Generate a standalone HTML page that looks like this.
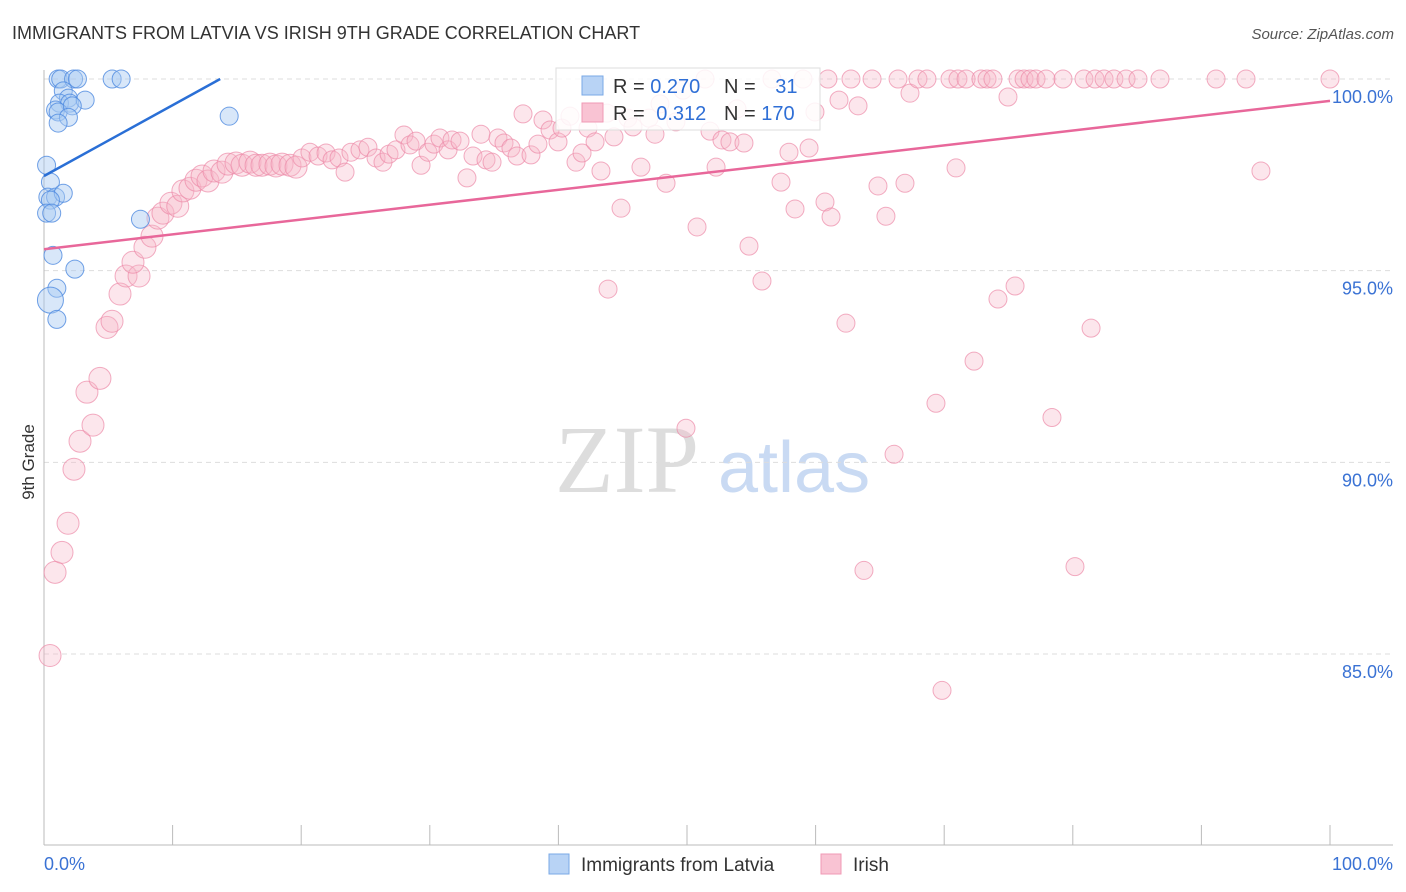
<!DOCTYPE html>
<html><head><meta charset="utf-8"><style>
body{margin:0;background:#fff;font-family:"Liberation Sans",sans-serif}
</style></head><body>
<svg id="c" width="1406" height="892" style="display:block">
<text x="12" y="39" font-size="18" fill="#333">IMMIGRANTS FROM LATVIA VS IRISH 9TH GRADE CORRELATION CHART</text>
<text x="1394" y="39" font-size="15" fill="#555" font-style="italic" text-anchor="end">Source: ZipAtlas.com</text>
<text x="34" y="462" font-size="17" fill="#333" transform="rotate(-90 34 462)" text-anchor="middle">9th Grade</text>
<text x="555" y="492" font-size="96" fill="#ddd" font-family="Liberation Serif">ZIP</text>
<text x="718" y="492" font-size="72" fill="#c9daf3">atlas</text>
<g id="grid"></g><g id="pts"></g><g id="lines"></g>
<g>
<rect x="556" y="68" width="264" height="62" fill="#fff" fill-opacity="0.85" stroke="#ddd"/>
<rect x="582" y="76" width="21" height="19" fill="#b8d3f5" stroke="#7aa8e6"/>
<rect x="582" y="103" width="21" height="19" fill="#f9c3d3" stroke="#f09ab4"/>
<text x="613" y="93" font-size="20" fill="#333">R = <tspan fill="#2f6fd6">0.270</tspan></text>
<text x="724" y="93" font-size="20" fill="#333">N = <tspan fill="#2f6fd6" dx="14">31</tspan></text>
<text x="613" y="120" font-size="20" fill="#333">R = <tspan fill="#2f6fd6" dx="6">0.312</tspan></text>
<text x="724" y="120" font-size="20" fill="#333">N = <tspan fill="#2f6fd6">170</tspan></text>
</g>
<g>
<rect x="549" y="854" width="20" height="20" fill="#b8d3f5" stroke="#7aa8e6"/>
<text x="581" y="871" font-size="19" fill="#333">Immigrants from Latvia</text>
<rect x="821" y="854" width="20" height="20" fill="#f9c3d3" stroke="#f09ab4"/>
<text x="853" y="871" font-size="19" fill="#333">Irish</text>
</g>
</svg>
<script>
const yTicks=[100,95,90,85];
const yTickLabels=["100.0%","95.0%","90.0%","85.0%"];
const xTickVals=[0,10,20,30,40,50,60,70,80,90,100];
const blueX=[1.1,1.3,2.3,2.6,5.3,6.0,1.5,1.9,1.2,2.0,3.2,0.9,1.1,2.2,1.9,1.1,14.4,0.5,0.3,0.9,1.5,0.5,0.2,0.6,7.5,0.7,2.4,1.0,0.5,1.0,0.2];
const blueY=[100,100,100,100,100,100,99.69,99.5,99.37,99.37,99.45,99.19,99.14,99.3,99.0,98.85,99.03,97.31,96.92,96.92,97.02,96.84,96.5,96.5,96.34,95.4,95.04,94.54,94.23,93.73,97.75];
const pinkX=[0.47,0.86,1.4,1.87,2.33,2.8,3.81,3.34,4.35,4.9,5.29,5.91,6.38,7.39,6.92,7.85,8.4,8.86,9.25,9.87,10.4,10.8,11.35,11.82,12.29,12.75,13.22,13.84,14.31,14.93,15.4,16.02,16.49,16.95,17.57,18.04,18.51,19.13,19.6,20.06,20.68,21.31,21.93,22.4,22.94,23.41,23.87,24.57,25.19,25.82,26.36,26.83,27.37,27.99,28.46,28.93,29.32,29.86,30.33,30.79,31.42,31.73,32.35,32.89,33.36,33.98,34.37,34.84,35.3,35.77,36.31,36.78,37.25,37.87,38.41,38.8,39.35,39.97,40.28,40.9,41.37,41.84,42.3,42.85,43.31,43.78,44.32,44.87,45.41,45.8,46.42,47.05,47.51,47.9,48.37,49.14,49.69,50.78,51.4,51.79,52.26,52.72,53.34,53.89,54.43,54.82,55.83,56.61,57.31,57.93,58.4,59.02,59.49,59.95,60.73,60.96,61.2,61.82,62.36,62.75,63.3,63.76,64.39,64.85,65.47,66.1,66.41,66.95,67.34,67.96,68.66,69.36,69.83,70.45,70.92,71.07,71.7,72.32,72.86,73.33,73.79,74.18,74.96,75.51,75.74,76.21,76.67,77.14,77.92,78.38,79.24,80.17,80.87,81.42,81.73,82.43,83.2,84.14,85.07,86.78,91.14,93.47,94.63,100,49.92,43.86];
const pinkY=[84.96,87.13,87.65,88.41,89.82,90.55,90.97,91.83,92.19,93.52,93.68,94.39,94.86,94.86,95.22,95.61,95.9,96.37,96.5,96.76,96.68,97.08,97.15,97.36,97.47,97.34,97.6,97.57,97.78,97.81,97.75,97.83,97.75,97.75,97.78,97.73,97.78,97.75,97.7,97.94,98.09,97.99,98.07,97.89,97.94,97.57,98.09,98.15,98.22,97.94,97.83,98.04,98.15,98.54,98.28,98.38,97.75,98.09,98.3,98.46,98.15,98.41,98.38,97.42,97.99,98.56,97.89,97.83,98.46,98.33,98.2,97.99,99.09,98.02,98.3,98.93,98.67,98.36,98.72,99.03,97.83,98.07,98.72,98.36,97.6,99.11,98.49,96.63,98.98,98.75,97.7,98.98,98.56,99.35,97.28,98.88,99.71,96.14,100,98.64,97.7,98.41,98.36,99.22,98.33,95.64,94.73,100,97.31,98.09,96.61,100,98.2,99.14,96.79,100,96.4,99.45,93.63,100,99.3,87.18,100,97.21,96.42,90.21,100,97.28,99.63,100,100,91.54,84.05,100,97.68,100,100,92.64,100,100,100,94.26,99.53,94.6,100,100,100,100,100,91.17,100,87.28,100,93.5,100,100,100,100,100,100,100,100,97.6,100,90.89,94.52];
const L=44,R=1330,T=79,B=845;
const xs=v=>L+(R-L)*v/100;
const ys=v=>T+(100-v)*(654-79)/15;
const NS="http://www.w3.org/2000/svg";
function mk(t,a,p){const e=document.createElementNS(NS,t);for(const k in a)e.setAttribute(k,a[k]);p.appendChild(e);return e;}
const grid=document.getElementById('grid');
yTicks.forEach((v,i)=>{
 const g=mk('line',{x1:L,x2:1393,y1:ys(v),y2:ys(v),stroke:'#ddd','stroke-dasharray':'5,4'},grid);
 
 
 const t=mk('text',{x:1393,y:ys(v)+24,'font-size':18,fill:'#3a72d4','text-anchor':'end'},grid);
 t.textContent=yTickLabels[i];
 
 
});
const ax=mk('line',{x1:L,x2:1393,y1:B,y2:B,stroke:'#bbb'},grid);


const ay=mk('line',{x1:L,x2:L,y1:70,y2:B,stroke:'#bbb'},grid);


xTickVals.forEach(v=>{
 const t=mk('line',{x1:xs(v),x2:xs(v),y1:825,y2:B,stroke:'#bbb'},grid);
 
 
});
[[0,"0.0%",'start',44],[100,"100.0%",'end',1393]].forEach(a=>{
 const t=mk('text',{x:a[3],y:870,'font-size':18,fill:'#3a72d4','text-anchor':a[2]},grid);
 t.textContent=a[1];
 
 
});
const pts=document.getElementById('pts');
pinkX.forEach((x,i)=>{
 const c=mk('circle',{cx:xs(x),cy:ys(pinkY[i]),r:x<20?11:9,fill:'#f7b6c9','fill-opacity':0.35,stroke:'#ec8aa8','stroke-opacity':0.7},pts);
 
 
});
blueX.forEach((x,i)=>{
 const c=mk('circle',{cx:xs(x),cy:ys(blueY[i]),r:i==28?13:9,fill:'#a9c9f2','fill-opacity':0.45,stroke:'#4d8ae0','stroke-opacity':0.8},pts);
 
 
});
const lines=document.getElementById('lines');
const bl=mk('line',{x1:xs(0),y1:ys(97.47),x2:xs(13.7),y2:ys(100),stroke:'#2a6fd6','stroke-width':2.5},lines);


const pl=mk('line',{x1:xs(0),y1:ys(95.56),x2:xs(100),y2:ys(99.43),stroke:'#e8679a','stroke-width':2.5},lines);


</script>
</body></html>
